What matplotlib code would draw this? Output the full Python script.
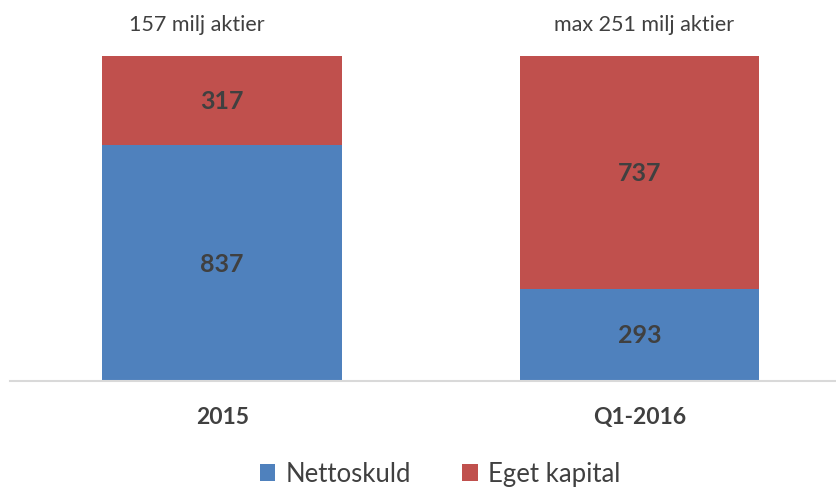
import numpy as np
import matplotlib.pyplot as plt

plt.rcParams['font.family'] = ['Lato', 'DejaVu Sans']

categories = ['2015', 'Q1-2016']
nettoskuld = [837, 293]
eget_kapital = [317, 737]
top_notes = ['157 milj aktier', 'max 251 milj aktier']

blue = '#4F81BD'
red = '#C0504D'
txt = '#404040'

fig = plt.figure(figsize=(8.36, 4.89), dpi=100)
ax = fig.add_axes([10 / 836, 1 - 382 / 489, 1 - 10 / 836, 325 / 489])

x = np.arange(len(categories))
netto = np.array(nettoskuld, dtype=float)
eget = np.array(eget_kapital, dtype=float)
total = netto + eget
netto_share = netto / total
eget_share = eget / total

w = 0.573
ax.bar(x, netto_share, w, color=blue, label='Nettoskuld')
ax.bar(x, eget_share, w, bottom=netto_share, color=red, label='Eget kapital')

note_shift = [-0.06, 0.01]
for i in range(len(x)):
    ax.text(x[i], netto_share[i] / 2, str(nettoskuld[i]), ha='center', va='center',
            fontsize=18, fontweight='bold', color=txt)
    ax.text(x[i], netto_share[i] + eget_share[i] / 2, str(eget_kapital[i]), ha='center',
            va='center', fontsize=18, fontweight='bold', color=txt)
    ax.text(x[i] + note_shift[i], 1.098, top_notes[i], ha='center', va='center',
            fontsize=15.5, color=txt)

ax.set_xlim(-0.508, 1.47)
ax.set_ylim(0, 1)
ax.set_xticks(x)
ax.set_xticklabels(categories, fontsize=16.5, fontweight='bold', color=txt)
ax.tick_params(axis='x', length=0, pad=18)
ax.set_yticks([])
for s in ['top', 'right', 'left']:
    ax.spines[s].set_visible(False)
ax.spines['bottom'].set_color('#D9D9D9')
ax.spines['bottom'].set_linewidth(1.5)

fig.legend(loc='center', bbox_to_anchor=(440 / 836, 1 - 475 / 489), ncol=2, frameon=False,
           fontsize=18.5, handlelength=0.6, handleheight=0.6, handletextpad=0.4,
           columnspacing=2.0, labelcolor=txt)

fig.savefig('out.png', dpi=100)
